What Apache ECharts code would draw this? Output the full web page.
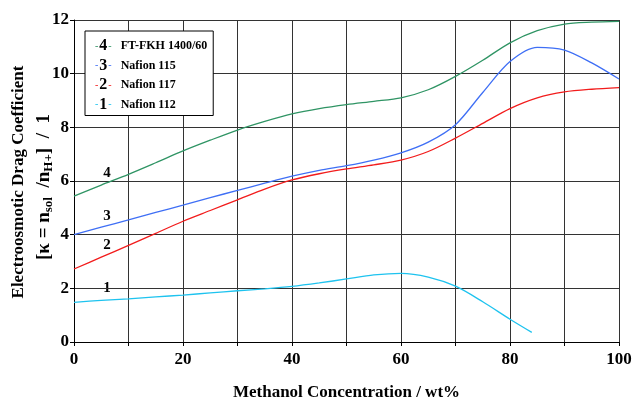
<!DOCTYPE html>
<html><head><meta charset="utf-8">
<script src="https://cdn.jsdelivr.net/npm/echarts@6/dist/echarts.min.js"></script>
<style>html,body{margin:0;padding:0;background:#fff;overflow:hidden}#c{width:632px;height:399px}</style>
</head><body><div id="c"></div>
<script>
var names = ['FT-FKH 1400/60', 'Nafion 115', 'Nafion 117', 'Nafion 112'];
var nums = ['4', '3', '2', '1'];
var colors = ['#2f9464', '#3f6ff5', '#f21c1c', '#1ec3ef'];
var xTicks = [0, 20, 40, 60, 80, 100];
var yTicks = [0, 2, 4, 6, 8, 10, 12];

var conc = [0, 5, 10, 15, 20, 25, 30, 35, 40, 45, 50, 55, 60, 65, 70, 75, 80, 85, 90, 95, 100];
var ftfkh = [5.44, 5.85, 6.25, 6.68, 7.12, 7.52, 7.9, 8.22, 8.5, 8.7, 8.85, 8.97, 9.1, 9.4, 9.9, 10.5, 11.15, 11.6, 11.85, 11.92, 11.95];
var naf115 = [4.0, 4.28, 4.55, 4.83, 5.1, 5.38, 5.65, 5.92, 6.18, 6.4, 6.57, 6.78, 7.05, 7.45, 8.1, 9.3, 10.45, 10.98, 10.88, 10.4, 9.8];
var naf117 = [2.72, 3.16, 3.6, 4.05, 4.5, 4.9, 5.3, 5.7, 6.04, 6.27, 6.45, 6.6, 6.78, 7.1, 7.6, 8.15, 8.7, 9.1, 9.32, 9.42, 9.48];
var conc112 = [0, 5, 10, 15, 20, 25, 30, 35, 40, 45, 50, 55, 60, 65, 70, 75, 80, 84];
var naf112 = [1.48, 1.55, 1.61, 1.68, 1.75, 1.83, 1.91, 1.98, 2.07, 2.2, 2.35, 2.5, 2.56, 2.42, 2.08, 1.5, 0.85, 0.36];

var xs = [conc, conc, conc, conc112], ys = [ftfkh, naf115, naf117, naf112];
function pairs(xa, ya) { return ya.map(function (v, i) { return [xa[i], v]; }); }

var FONT = '"Liberation Serif", "Times New Roman", serif';
var chart = echarts.init(document.getElementById('c'));
var rich = { n: { fontSize: 16, fontWeight: 'bold', fontFamily: FONT, color: '#000', padding: [0, 1, 0, 1] },
             nm: { fontSize: 12, fontWeight: 'bold', fontFamily: FONT, color: '#000', padding: [0, 0, 0, 9] } };
colors.forEach(function (c, i) { rich['d' + i] = { color: c, fontSize: 10, fontFamily: FONT }; });

var series = names.map(function (n, i) {
  return { name: n, type: 'line', smooth: 0.3, symbol: 'none', data: pairs(xs[i], ys[i]),
    lineStyle: { color: colors[i], width: 1.3 }, itemStyle: { color: colors[i] } };
});

var graphics = [];
var labelPos = [[107, 173], [107, 216], [107, 245], [107, 288]];
nums.forEach(function (n, i) {
  graphics.push({ type: 'text', x: labelPos[i][0], y: labelPos[i][1],
    style: { text: n, font: 'bold 15px ' + FONT, fill: '#000', align: 'center', verticalAlign: 'middle' } });
});
graphics.push({ type: 'text', x: 19, y: 182, rotation: Math.PI / 2, style: {
  text: 'Electroosmotic Drag Coefficient', font: 'bold 17px ' + FONT, fill: '#000',
  align: 'center', verticalAlign: 'middle' } });
graphics.push({ type: 'text', x: 44, y: 187, rotation: Math.PI / 2, style: {
  text: '{a|[κ = n}{s|sol}{a|  /n}{s|H+}{a|]  /  1}', align: 'center', verticalAlign: 'middle',
  rich: { a: { font: 'bold 19px ' + FONT, fill: '#000' },
          s: { font: 'bold 13px ' + FONT, fill: '#000', padding: [9, 0, 0, 0] } } } });

chart.setOption({
  animation: false,
  grid: { left: 74, right: 13, top: 20, bottom: 57, containLabel: false, outerBoundsMode: 'none' },
  legend: {
    orient: 'vertical', left: 85, top: 31,
    backgroundColor: '#fff', borderColor: '#000', borderWidth: 1,
    padding: [6, 6, 3, 5], itemGap: 2.5, icon: 'none', itemWidth: 0, itemHeight: 18,
    data: names,
    formatter: function (name) {
      var i = names.indexOf(name);
      return '{d' + i + '|-}{n|' + nums[i] + '}{d' + i + '|-}{nm|' + name + '}';
    },
    textStyle: { rich: rich }
  },
  xAxis: {
    type: 'value', min: 0, max: 100, interval: 10,
    name: 'Methanol Concentration / wt%', nameLocation: 'middle', nameGap: 42,
    nameTextStyle: { fontFamily: FONT, fontWeight: 'bold', fontSize: 17, color: '#000' },
    axisLine: { lineStyle: { color: '#000', width: 1 } },
    axisTick: { show: true, length: 4, lineStyle: { color: '#000' } },
    axisLabel: { fontFamily: FONT, fontWeight: 'bold', fontSize: 17, color: '#000', margin: 9,
      formatter: function (v) { return xTicks.indexOf(v) >= 0 ? String(v) : ''; } },
    splitLine: { show: true, lineStyle: { color: '#333', width: 1 } }
  },
  yAxis: {
    type: 'value', min: 0, max: 12, interval: 2,
    axisLine: { show: true, lineStyle: { color: '#000', width: 1 } },
    axisTick: { show: true, length: 4, lineStyle: { color: '#000' } },
    axisLabel: { fontFamily: FONT, fontWeight: 'bold', fontSize: 17, color: '#000', margin: 5,
      formatter: function (v) { return yTicks.indexOf(v) >= 0 ? String(v) : ''; } },
    splitLine: { show: true, lineStyle: { color: '#333', width: 1 } }
  },
  series: series,
  graphic: graphics
});
</script></body></html>
